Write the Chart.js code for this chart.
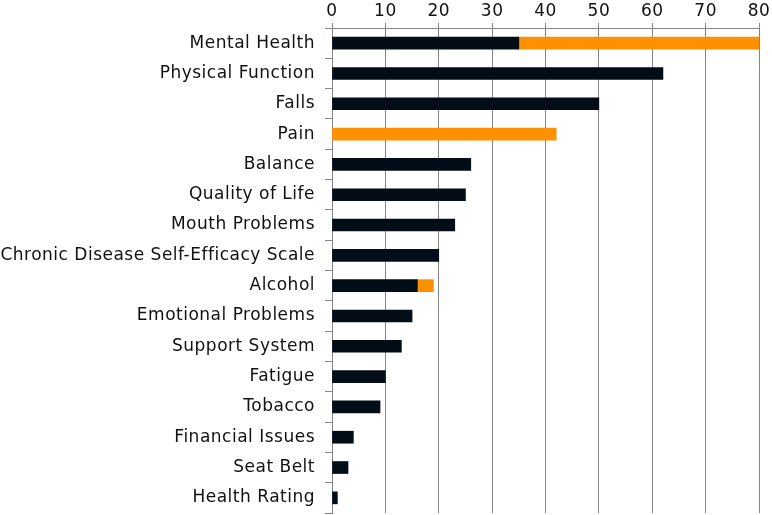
<!DOCTYPE html>
<html>
<head>
<meta charset="utf-8">
<script src="https://cdn.jsdelivr.net/npm/chart.js@4/dist/chart.umd.min.js"></script>
<style>
  html, body { margin: 0; padding: 0; background: #fff; }
  #wrap { width: 772px; height: 515px; }
</style>
</head>
<body>
<div id="wrap"><canvas id="barChart"></canvas></div>
<script>
// Categories and values (null = no segment)
const categories = [
    'Mental Health', 'Physical Function', 'Falls', 'Pain', 'Balance',
    'Quality of Life', 'Mouth Problems', 'Chronic Disease Self-Efficacy Scale',
    'Alcohol', 'Emotional Problems', 'Support System', 'Fatigue', 'Tobacco',
    'Financial Issues', 'Seat Belt', 'Health Rating'
];
const darkValues = [35, 62, 50, null, 26, 25, 23, 20, 16, 15, 13, 10, 9, 4, 3, 1];
const orangeValues = [45, null, null, 42, null, null, null, null, 3, null, null, null, null, null, null, null];
const xTicks = [0, 10, 20, 30, 40, 50, 60, 70, 80];

const ctx = document.getElementById('barChart').getContext('2d');

// a touch wider lettering, closer to the reference typeface
const letterSpacing = {
    id: 'letterSpacing',
    beforeUpdate: (chart) => { chart.ctx.letterSpacing = '0.5px'; },
    beforeDraw: (chart) => { chart.ctx.letterSpacing = '0.5px'; },
};

const config = {
    type: 'bar',
    data: {
        labels: categories,
        datasets: [
            {
                label: 'Dark',
                data: darkValues,
                backgroundColor: '#020d18',
                barThickness: 12,
            },
            {
                label: 'Orange',
                data: orangeValues,
                backgroundColor: '#ff9000',
                barThickness: 12,
            }
        ]
    },
    options: {
        indexAxis: 'y',
        responsive: true,
        maintainAspectRatio: false,
        animation: false,
        layout: {
            padding: { left: 0, right: 13, top: 0, bottom: 2 }
        },
        scales: {
            x: {
                position: 'top',
                stacked: true,
                min: 0,
                max: 80,
                afterBuildTicks: (scale) => {
                    scale.ticks = xTicks.map(v => ({ value: v }));
                },
                afterFit: (scale) => { scale.height = 28; },
                grid: {
                    color: '#858585',
                    lineWidth: 1,
                    tickLength: 5,
                },
                border: { color: '#858585' },
                ticks: {
                    color: '#111',
                    padding: 1,
                    font: { family: 'DejaVu Sans', size: 17 },
                    maxRotation: 0,
                }
            },
            y: {
                stacked: true,
                afterFit: (scale) => {
                    scale.width = 332;
                    scale.paddingTop = 0;
                    scale.paddingBottom = 0;
                },
                grid: {
                    offset: true,
                    drawOnChartArea: false,
                    color: '#858585',
                    tickLength: 7,
                },
                border: { color: '#858585' },
                ticks: {
                    color: '#111',
                    padding: 10,
                    font: { family: 'DejaVu Sans', size: 17 },
                }
            }
        },
        plugins: {
            legend: { display: false },
            tooltip: { enabled: false },
        }
    },
    plugins: [letterSpacing]
};

new Chart(ctx, config);
</script>
</body>
</html>
